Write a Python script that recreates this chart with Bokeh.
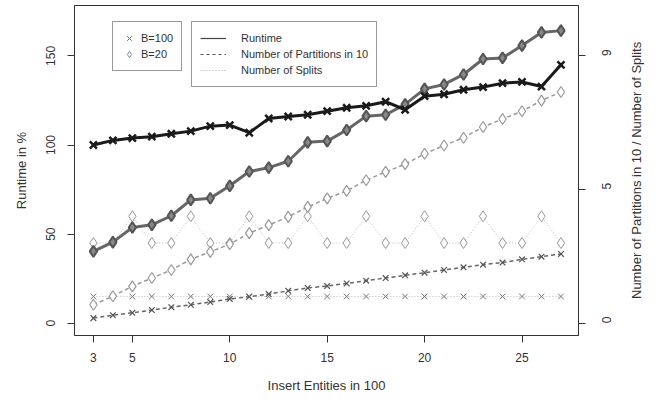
import math
from bokeh.plotting import figure
from bokeh.models import Range1d, LinearAxis, FixedTicker, Legend, LegendItem, ColumnDataSource
from bokeh.embed import file_html
from bokeh.resources import INLINE

# ---- data ----
insert_entities = list(range(3, 28))
runtime_b100 = [100.0, 102.6, 103.9, 104.7, 106.3, 107.8, 110.6, 111.2, 106.9, 114.9, 116.0, 117.0,
                119.0, 120.9, 122.0, 124.3, 119.8, 127.4, 128.5, 131.0, 132.5, 134.7, 135.4, 132.8, 145.0]
runtime_b20 = [40.3, 45.5, 53.7, 55.2, 60.3, 69.2, 70.1, 77.1, 85.1, 87.3, 90.9, 101.5,
               102.2, 108.4, 116.2, 117.0, 122.8, 131.5, 134.0, 139.6, 148.3, 148.9, 155.8, 163.2, 164.2]
partitions_b100 = [0.19, 0.30, 0.39, 0.49, 0.60, 0.69, 0.79, 0.91, 0.99, 1.09, 1.21, 1.32,
                   1.39, 1.49, 1.59, 1.69, 1.79, 1.89, 1.99, 2.09, 2.19, 2.27, 2.39, 2.49, 2.59]
partitions_b20 = [0.69, 1.01, 1.38, 1.69, 1.99, 2.39, 2.67, 2.96, 3.37, 3.67, 3.98, 4.35,
                  4.67, 4.95, 5.35, 5.66, 5.95, 6.34, 6.65, 6.94, 7.34, 7.64, 7.93, 8.33, 8.65]
splits_b100 = [1] * 25
splits_b20 = [3, 3, 4, 3, 3, 4, 3, 3, 4, 3, 3, 4, 3, 3, 4, 3, 3, 4, 3, 3, 4, 3, 3, 4, 3]

x_ticks = [3, 5, 10, 15, 20, 25]
left_ticks = [0, 50, 100, 150]
right_ticks = [0, 5, 10]
right_tick_labels = {10: "9"}
right_title = "Number of Partitions in 10 / Number of Splits"

FONT = "Liberation Sans"
LEFT_START, LEFT_END = -6.9, 178.3
X_START, X_END = 2.03, 27.9
SCALE = 15.0
FRAME_H = 330.0

p = figure(width=655, height=396, output_backend="svg", toolbar_location=None,
           x_range=Range1d(X_START, X_END), y_range=Range1d(LEFT_START, LEFT_END),
           min_border_left=74, min_border_right=77, min_border_top=5, min_border_bottom=61)
p.extra_y_ranges = {"right": Range1d(LEFT_START / SCALE, LEFT_END / SCALE)}
p.background_fill_color = "white"
p.border_fill_color = "white"
p.outline_line_color = "#333333"
p.outline_line_width = 1
p.grid.visible = False

# splits (dotted)
p.line(insert_entities, splits_b20, y_range_name="right", line_color="#bbbbbb", line_width=1, line_dash="1 2")
p.scatter(insert_entities, splits_b20, y_range_name="right", marker="diamond", size=11,
          fill_color="white", line_color="#999999", line_width=1)
p.line(insert_entities, splits_b100, y_range_name="right", line_color="#bbbbbb", line_width=1, line_dash="1 2")
p.scatter(insert_entities, splits_b100, y_range_name="right", marker="x", size=8,
          line_color="#777777", line_width=1)

# partitions (dashed)
p.line(insert_entities, partitions_b20, y_range_name="right", line_color="#999999", line_width=1.5, line_dash="4 3")
p.scatter(insert_entities, partitions_b20, y_range_name="right", marker="diamond", size=11,
          fill_color="white", line_color="#999999", line_width=1.2)
p.line(insert_entities, partitions_b100, y_range_name="right", line_color="#666666", line_width=1.5, line_dash="4 3")
p.scatter(insert_entities, partitions_b100, y_range_name="right", marker="x", size=8,
          line_color="#555555", line_width=1.2)

# runtime (solid)
p.line(insert_entities, runtime_b20, line_color="#666666", line_width=3)
p.scatter(insert_entities, runtime_b20, marker="diamond", size=11,
          fill_color="#888888", line_color="#555555", line_width=2)
p.line(insert_entities, runtime_b100, line_color="#1a1a1a", line_width=3)
p.scatter(insert_entities, runtime_b100, marker="x", size=10, line_color="#1a1a1a", line_width=2.5)

def style_axis(ax):
    ax.axis_line_color = "#333333"
    ax.major_tick_line_color = "#333333"
    ax.major_tick_out = 7
    ax.major_tick_in = 0
    ax.minor_tick_line_color = None
    ax.major_label_text_font = FONT
    ax.major_label_text_font_size = "12px"
    ax.major_label_text_color = "#333333"
    ax.axis_label_text_font = FONT
    ax.axis_label_text_font_size = "13px"
    ax.axis_label_text_font_style = "normal"
    ax.axis_label_text_color = "#333333"

xa = p.xaxis[0]
xa.ticker = FixedTicker(ticks=x_ticks)
xa.axis_label = "Insert Entities in 100"
style_axis(xa)
xa.major_label_standoff = 10
xa.axis_label_standoff = 13

ya = p.yaxis[0]
ya.ticker = FixedTicker(ticks=left_ticks)
ya.axis_label = "Runtime in %"
style_axis(ya)
ya.major_label_orientation = "vertical"
ya.major_label_standoff = 12
ya.axis_label_standoff = 15

ra = LinearAxis(y_range_name="right", ticker=FixedTicker(ticks=right_ticks))
ra.major_label_overrides = right_tick_labels
style_axis(ra)
ra.major_label_orientation = math.pi / 2
ra.major_label_standoff = 21
p.add_layout(ra, "right")

# right-hand title, reading bottom to top: drawn as the single label of a bare axis,
# whose numeric-oriented label starts at its tick, so the tick sits where the text begins
title_len_px = 257.0
px_per_y = FRAME_H / (LEFT_END - LEFT_START)
title_start = (LEFT_START + LEFT_END) / 2 - (title_len_px / 2) / px_per_y
ta = LinearAxis(ticker=FixedTicker(ticks=[title_start]))
ta.major_label_overrides = {title_start: right_title}
ta.major_label_orientation = math.pi / 2
ta.major_label_text_font = FONT
ta.major_label_text_font_size = "13px"
ta.major_label_text_color = "#333333"
ta.major_label_standoff = 18
ta.axis_line_color = None
ta.major_tick_line_color = None
ta.minor_tick_line_color = None
ta.major_tick_out = 0
ta.major_tick_in = 0
p.add_layout(ta, "right")

# legends (proxy renderers, drawn off-screen)
src_proxy = ColumnDataSource(dict(x=[-100], y=[-1000]))
lg_x = p.scatter("x", "y", source=src_proxy, marker="x", size=8, line_color="#666666", line_width=1)
lg_d = p.scatter("x", "y", source=src_proxy, marker="diamond", size=10, fill_color="white",
                 line_color="#888888", line_width=1)
lg_solid = p.line("x", "y", source=src_proxy, line_color="#444444", line_width=1.2)
lg_dash = p.line("x", "y", source=src_proxy, line_color="#555555", line_width=1.2, line_dash="3 3")
lg_dot = p.line("x", "y", source=src_proxy, line_color="#aaaaaa", line_width=1, line_dash="1 2")

def style_legend(lg):
    lg.label_text_font = FONT
    lg.label_text_font_size = "11px"
    lg.label_text_color = "#333333"
    lg.label_height = 16
    lg.glyph_height = 16
    lg.spacing = 0
    lg.padding = 8
    lg.margin = 0
    lg.border_line_color = "#333333"
    lg.border_line_width = 1
    lg.background_fill_color = "white"
    lg.background_fill_alpha = 1

leg1 = Legend(items=[LegendItem(label="B=100", renderers=[lg_x]),
                     LegendItem(label="B=20", renderers=[lg_d])],
              location=(38, 264))
style_legend(leg1)
leg1.glyph_width = 16
leg1.label_standoff = 4

leg2 = Legend(items=[LegendItem(label="Runtime", renderers=[lg_solid]),
                     LegendItem(label="Number of Partitions in 10", renderers=[lg_dash]),
                     LegendItem(label="Number of Splits", renderers=[lg_dot])],
              location=(117, 248))
style_legend(leg2)
leg2.glyph_width = 26
leg2.label_standoff = 15

p.add_layout(leg1, "center")
p.add_layout(leg2, "center")

open("out.html", "w").write(file_html(p, INLINE))
